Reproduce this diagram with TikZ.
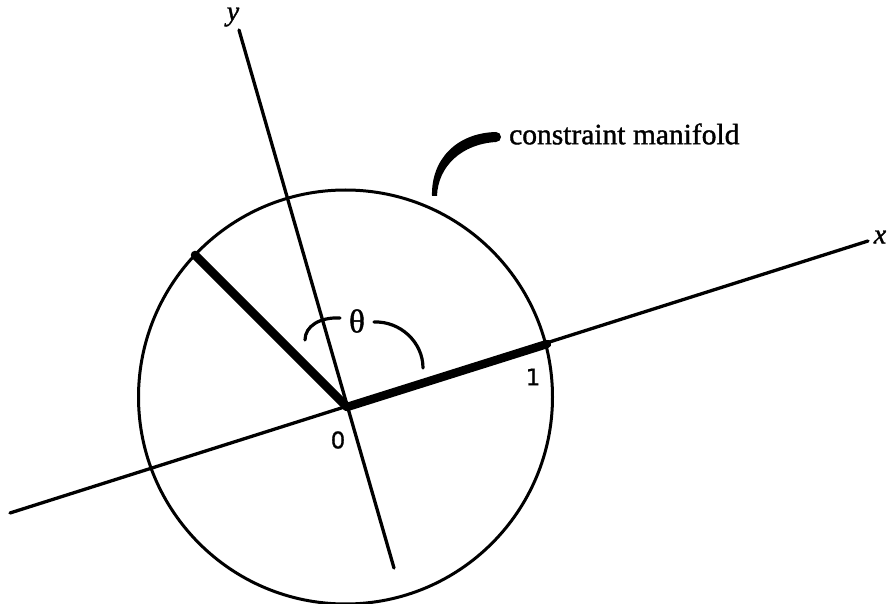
\documentclass[tikz,border=0pt]{standalone}
\usepackage{fontspec}
\setmainfont{Liberation Serif}
\newfontfamily\heavyfont[FakeBold=1.3]{Liberation Serif}
\newfontfamily\heavyit[FakeBold=1.3]{Liberation Serif Italic}
\newfontfamily\digitfont[FakeBold=0.8]{DejaVu Sans}
\begin{document}
\begin{tikzpicture}[x=1pt,y=-1pt,
  axisline/.style={line width=3.3pt,line cap=round},
  thinline/.style={line width=3pt},
  barline/.style={line width=8.5pt,line cap=round},
  arcline/.style={line width=3.2pt,line cap=round},
  lab/.style={inner sep=0pt,font=\heavyfont\fontsize{28}{30}\selectfont},
  num/.style={inner sep=0pt,font=\digitfont\fontsize{23}{25}\selectfont}]
\useasboundingbox (0,0) rectangle (887,604);
% key points
\coordinate (O) at (347,407);
\coordinate (C) at (345.5,397);
\coordinate (xend) at (868,241);
\coordinate (xstart) at (10,513);
\coordinate (ytop) at (239,30);
\coordinate (ybot) at (394,568);
\coordinate (P1) at (547,344);
\coordinate (P2) at (195,255);
% circle
\draw[thinline] (C) circle[radius=207pt];
% axes
\draw[axisline] (xstart) -- (xend);
\draw[axisline] (ytop) -- (ybot);
% thick bars
\draw[barline] (O) -- (P1);
\draw[barline] (O) -- (P2);
% theta arc
\draw[arcline] (305,340) .. controls (305,326) and (320,317) .. (340,318);
\draw[arcline] (374,322) .. controls (400,321) and (423,342) .. (423,368);
\node[lab,font=\heavyfont\fontsize{33}{35}\selectfont] (theta) at (357,321) {θ};
% labels
\node[lab,font=\heavyit\fontsize{28}{30}\selectfont] (ylab) at (233,17) {y};
\node[lab,font=\heavyit\fontsize{28}{30}\selectfont] (xlab) at (880,237) {x};
\node[num] (zero) at (338,440) {0};
\node[num] (one) at (533,377) {1};
% callout
\fill (432,196) .. controls (431,160) and (456,133) .. (496,132)
  arc[start angle=-90,end angle=90,x radius=5pt,y radius=-5pt]
  .. controls (462,144) and (438,166) .. (437,196) -- cycle;
\node[lab,anchor=west,font=\heavyfont\fontsize{29.5}{31}\selectfont] (cm) at (509,134) {constraint manifold};
\end{tikzpicture}
\end{document}
